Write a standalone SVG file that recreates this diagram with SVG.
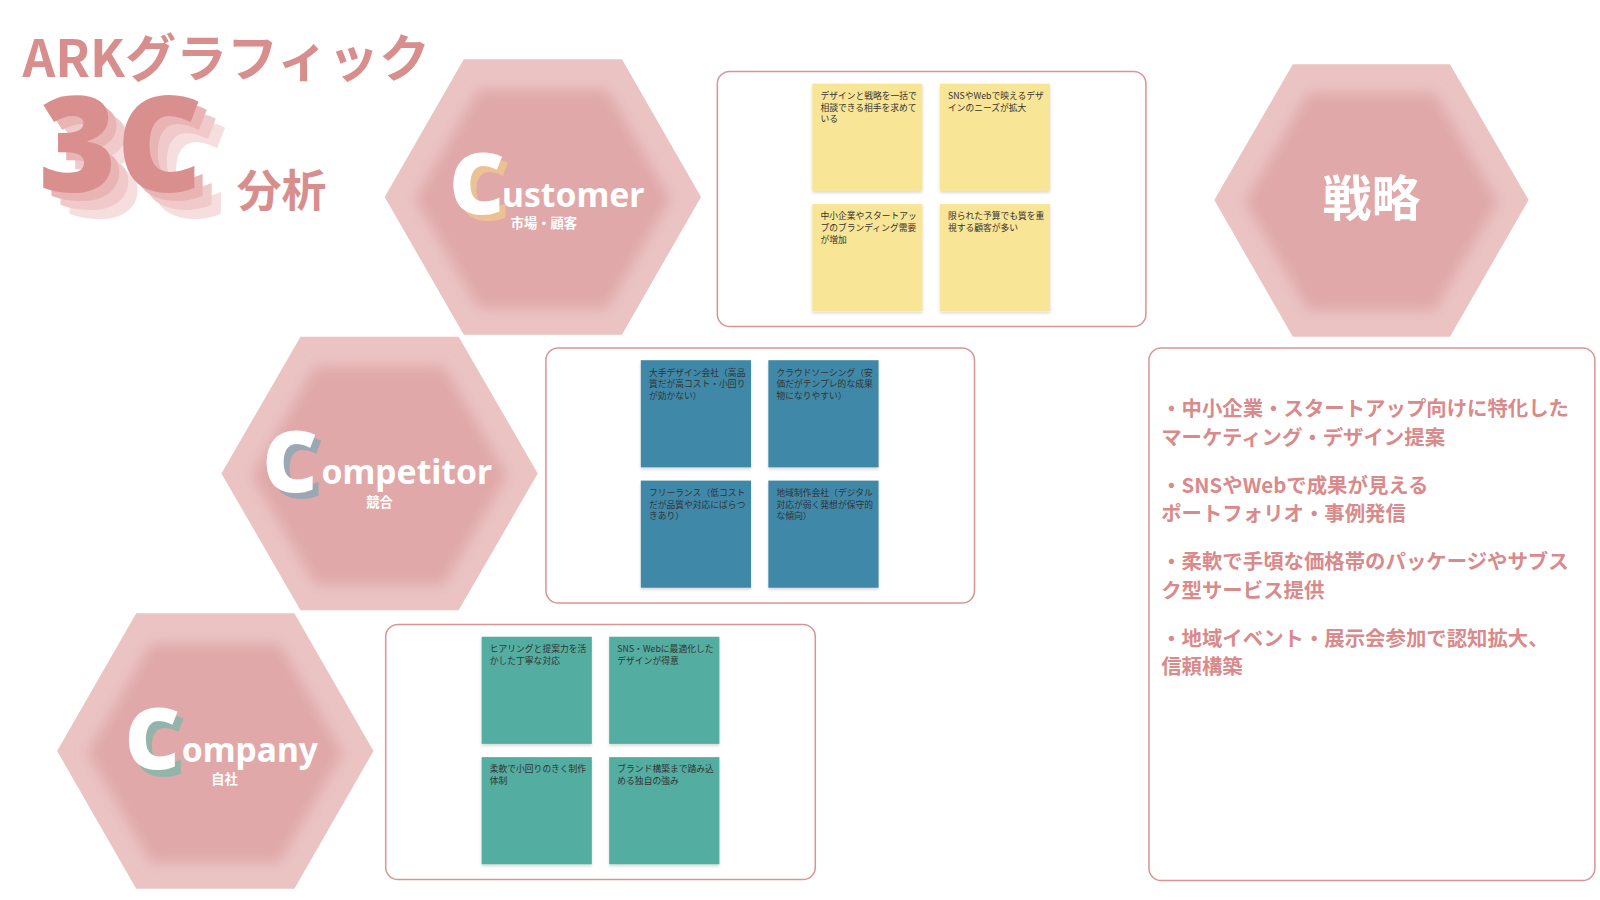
<svg xmlns="http://www.w3.org/2000/svg" width="1600" height="900" viewBox="0 0 1600 900">
<defs>
<style>
.j{font-family:"Noto Sans CJK JP","Noto Sans",sans-serif}
.o{fill:#ebc3c3}
.i{fill:#e0a8a8}
.box{fill:#fff;stroke:#d99595;stroke-width:1.5}
.nt{font-size:8.6px;fill:#333}
.y{fill:#f8e596}.b{fill:#3f88a8}.g{fill:#52ada0}
.st{font-size:20px;font-weight:bold;fill:#d98a8a}
.big{font-family:"Noto Sans","Open Sans",sans-serif;font-weight:bold;fill:#fff;font-size:33px}
.sub{font-size:13px;font-weight:bold;fill:#fff}
.bc{font-family:"Noto Sans",sans-serif;font-weight:900;font-size:84px}
</style>
<filter id="sh"><feDropShadow dx="0" dy="2" stdDeviation="1.5" flood-opacity="0.15"/></filter>
<filter id="bl"><feGaussianBlur stdDeviation="6"/></filter>
</defs>
<rect width="1600" height="900" fill="#fff"/>
<g transform="scale(1.0204)">
<g id="title" class="j">
<text x="22" y="75" font-size="50" font-weight="bold" fill="#d98e8e">ARKグラフィック</text>
<g font-family="'Noto Sans',sans-serif" font-weight="900" font-size="130">
<text x="64" y="214" fill="#f6dede">3C</text>
<text x="55" y="205" fill="#f0caca">3C</text>
<text x="46" y="196" fill="#e8b4b4">3C</text>
<text x="38" y="188" fill="#da8f8f">3C</text>
</g>
<text x="232" y="203" font-size="44" font-weight="bold" fill="#d98e8e">分析</text>
</g>

<g id="customer">
<polygon class="o" points="377,193 454.5,58 609.5,58 687,193 609.5,328 454.5,328"/>
<polygon class="i" points="407,195 469,88 595,88 657,195 595,302 469,302" filter="url(#bl)"/>
<text class="bc" x="446" y="216" fill="#f0c890" opacity="0.8">C</text>
<text class="bc" x="440" y="210" fill="#fff">C</text>
<text class="big" x="492" y="203">ustomer</text>
<text class="j sub" x="533" y="223" text-anchor="middle">市場・顧客</text>
</g>

<g id="competitor">
<polygon class="o" points="217,464 294.5,330 449.5,330 527,464 449.5,598 294.5,598"/>
<polygon class="i" points="247,466 309,359 435,359 497,466 435,573 309,573" filter="url(#bl)"/>
<text class="bc" x="263" y="488" fill="#8aa8b8" opacity="0.8">C</text>
<text class="bc" x="257" y="482" fill="#fff">C</text>
<text class="big" x="315" y="474">ompetitor</text>
<text class="j sub" x="372" y="497" text-anchor="middle">競合</text>
</g>

<g id="company">
<polygon class="o" points="56,736 133.5,601 288.5,601 366,736 288.5,871 133.5,871"/>
<polygon class="i" points="86,738 148,631 274,631 336,738 274,845 148,845" filter="url(#bl)"/>
<text class="bc" x="128" y="760" fill="#80b8a8" opacity="0.8">C</text>
<text class="bc" x="122" y="754" fill="#fff">C</text>
<text class="big" x="178" y="747">ompany</text>
<text class="j sub" x="220" y="768" text-anchor="middle">自社</text>
</g>

<g id="strategy">
<polygon class="o" points="1190,196 1267,63 1421,63 1498,196 1421,330 1267,330"/>
<polygon class="i" points="1220,198 1282,91 1406,91 1468,198 1406,304 1282,304" filter="url(#bl)"/>
<text class="j" x="1344" y="212" text-anchor="middle" font-size="48" font-weight="bold" fill="#fff">戦略</text>
</g>

<g id="customer-notes" class="j">
<rect class="box" x="703" y="70" width="420" height="250" rx="12"/>
<g filter="url(#sh)">
<rect class="y" x="796" y="82" width="108" height="105"/>
<rect class="y" x="921" y="82" width="108" height="105"/>
<rect class="y" x="796" y="200" width="108" height="105"/>
<rect class="y" x="921" y="200" width="108" height="105"/>
</g>
<text class="nt"><tspan x="804" y="97">デザインと戦略を一括で</tspan><tspan x="804" y="108.5">相談できる相手を求めて</tspan><tspan x="804" y="120">いる</tspan></text>
<text class="nt"><tspan x="929" y="97">SNSやWebで映えるデザ</tspan><tspan x="929" y="108.5">インのニーズが拡大</tspan></text>
<text class="nt"><tspan x="804" y="215">中小企業やスタートアッ</tspan><tspan x="804" y="226.5">プのブランディング需要</tspan><tspan x="804" y="238">が増加</tspan></text>
<text class="nt"><tspan x="929" y="215">限られた予算でも質を重</tspan><tspan x="929" y="226.5">視する顧客が多い</tspan></text>
</g>

<g id="competitor-notes" class="j">
<rect class="box" x="535" y="341" width="420" height="250" rx="12"/>
<g filter="url(#sh)">
<rect class="b" x="628" y="353" width="108" height="105"/>
<rect class="b" x="753" y="353" width="108" height="105"/>
<rect class="b" x="628" y="471" width="108" height="105"/>
<rect class="b" x="753" y="471" width="108" height="105"/>
</g>
<text class="nt"><tspan x="636" y="368">大手デザイン会社（高品</tspan><tspan x="636" y="379.5">質だが高コスト・小回り</tspan><tspan x="636" y="391">が効かない）</tspan></text>
<text class="nt"><tspan x="761" y="368">クラウドソーシング（安</tspan><tspan x="761" y="379.5">価だがテンプレ的な成果</tspan><tspan x="761" y="391">物になりやすい）</tspan></text>
<text class="nt"><tspan x="636" y="486">フリーランス（低コスト</tspan><tspan x="636" y="497.5">だが品質や対応にばらつ</tspan><tspan x="636" y="509">きあり）</tspan></text>
<text class="nt"><tspan x="761" y="486">地域制作会社（デジタル</tspan><tspan x="761" y="497.5">対応が弱く発想が保守的</tspan><tspan x="761" y="509">な傾向）</tspan></text>
</g>

<g id="company-notes" class="j">
<rect class="box" x="378" y="612" width="421" height="250" rx="12"/>
<g filter="url(#sh)">
<rect class="g" x="472" y="624" width="108" height="105"/>
<rect class="g" x="597" y="624" width="108" height="105"/>
<rect class="g" x="472" y="742" width="108" height="105"/>
<rect class="g" x="597" y="742" width="108" height="105"/>
</g>
<text class="nt"><tspan x="480" y="639">ヒアリングと提案力を活</tspan><tspan x="480" y="650.5">かした丁寧な対応</tspan></text>
<text class="nt"><tspan x="605" y="639">SNS・Webに最適化した</tspan><tspan x="605" y="650.5">デザインが得意</tspan></text>
<text class="nt"><tspan x="480" y="757">柔軟で小回りのきく制作</tspan><tspan x="480" y="768.5">体制</tspan></text>
<text class="nt"><tspan x="605" y="757">ブランド構築まで踏み込</tspan><tspan x="605" y="768.5">める独自の強み</tspan></text>
</g>

<g id="strategy-box" class="j">
<rect class="box" x="1126" y="341" width="437" height="522" rx="12"/>
<text class="st"><tspan x="1138" y="408">・中小企業・スタートアップ向けに特化した</tspan><tspan x="1138" y="436">マーケティング・デザイン提案</tspan></text>
<text class="st"><tspan x="1138" y="483">・SNSやWebで成果が見える</tspan><tspan x="1138" y="511">ポートフォリオ・事例発信</tspan></text>
<text class="st"><tspan x="1138" y="558">・柔軟で手頃な価格帯のパッケージやサブス</tspan><tspan x="1138" y="586">ク型サービス提供</tspan></text>
<text class="st"><tspan x="1138" y="633">・地域イベント・展示会参加で認知拡大、</tspan><tspan x="1138" y="661">信頼構築</tspan></text>
</g>

<g id="connectors"></g>
</g>
</svg>
